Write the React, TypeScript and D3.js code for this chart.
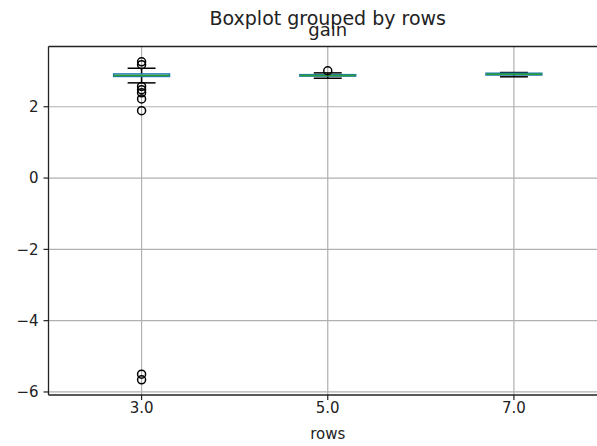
import * as d3 from 'd3';

// per-group summary stats
const categories = ['3.0', '5.0', '7.0'];
const q1 = [2.85, 2.86, 2.89];
const medians = [2.88, 2.88, 2.91];
const q3 = [2.92, 2.9, 2.94];
const whiskerLow = [2.67, 2.8, 2.84];
const whiskerHigh = [3.08, 2.95, 2.96];
const fliers: number[][] = [
  [3.26, 3.18, 2.57, 2.48, 2.39, 2.22, 1.89, -5.5, -5.66],
  [3.01],
  [],
];
const yTicks = [2, 0, -2, -4, -6];

const W = 597;
const H = 446;
const left = 48.5;
const right = 607;
const top = 46.5;
const bottom = 395;
const font = 'DejaVu Sans, sans-serif';

export default function App() {
  const x = d3.scaleLinear().domain([0.5, 3.5]).range([left, right]);
  const y = d3.scaleLinear().domain([-6.085, 3.69]).range([bottom, top]);
  const halfBox = x(1.15) - x(1);
  const halfCap = halfBox / 2;

  return (
    <svg width={W} height={H} style={{ position: 'absolute', left: 0, top: 0, background: '#fff' }}
      fontFamily={font}>
      <rect width={W} height={H} fill="#fff" />
      {/* grid */}
      {categories.map((c, i) => (
        <line key={'gx' + c} x1={x(i + 1)} x2={x(i + 1)} y1={top} y2={bottom} stroke="#b0b0b0" strokeWidth={1.2} />
      ))}
      {yTicks.map(t => (
        <line key={'gy' + t} x1={left} x2={right} y1={y(t)} y2={y(t)} stroke="#b0b0b0" strokeWidth={1.2} />
      ))}

      {/* boxes */}
      {categories.map((c, i) => {
        const cx = x(i + 1);
        return (
          <g key={'b' + c}>
            <line x1={cx} x2={cx} y1={y(q3[i])} y2={y(whiskerHigh[i])} stroke="#000" strokeWidth={1.5} />
            <line x1={cx} x2={cx} y1={y(q1[i])} y2={y(whiskerLow[i])} stroke="#000" strokeWidth={1.5} />
            <line x1={cx - halfCap} x2={cx + halfCap} y1={y(whiskerHigh[i])} y2={y(whiskerHigh[i])} stroke="#000" strokeWidth={1.5} />
            <line x1={cx - halfCap} x2={cx + halfCap} y1={y(whiskerLow[i])} y2={y(whiskerLow[i])} stroke="#000" strokeWidth={1.5} />
            <rect x={cx - halfBox} width={halfBox * 2} y={y(q3[i])} height={y(q1[i]) - y(q3[i])}
              fill="none" stroke="#1f77b4" strokeWidth={1.5} />
            <line x1={cx - halfBox} x2={cx + halfBox} y1={y(medians[i])} y2={y(medians[i])} stroke="#2ca02c" strokeWidth={1.5} />
            {fliers[i].map((v, j) => (
              <circle key={j} cx={cx} cy={y(v)} r={4} fill="none" stroke="#000" strokeWidth={1.5} />
            ))}
          </g>
        );
      })}

      {/* spines */}
      <line x1={left} x2={left} y1={top} y2={bottom} stroke="#222" strokeWidth={1.3} />
      <line x1={left} x2={right} y1={top} y2={top} stroke="#222" strokeWidth={1.3} />
      <line x1={left} x2={right} y1={bottom} y2={bottom} stroke="#222" strokeWidth={1.3} />

      {/* y axis */}
      {yTicks.map(t => (
        <g key={'yt' + t}>
          <line x1={left - 5} x2={left} y1={y(t)} y2={y(t)} stroke="#222" strokeWidth={1.2} />
          <text x={left - 10} y={y(t)} dy="0.36em" textAnchor="end" fontSize={15} fill="#222">
            {t < 0 ? '\u2212' + Math.abs(t) : t}
          </text>
        </g>
      ))}

      {/* x axis */}
      {categories.map((c, i) => (
        <g key={'xt' + c}>
          <line x1={x(i + 1)} x2={x(i + 1)} y1={bottom} y2={bottom + 5} stroke="#222" strokeWidth={1.2} />
          <text x={x(i + 1)} y={bottom + 18} textAnchor="middle" fontSize={15} fill="#222">{c}</text>
        </g>
      ))}
      <text x={x(2)} y={bottom + 44} textAnchor="middle" fontSize={15} fill="#222">rows</text>

      {/* titles */}
      <text x={x(2)} y={25} textAnchor="middle" fontSize={19} fill="#222">Boxplot grouped by rows</text>
      <text x={x(2)} y={36} textAnchor="middle" fontSize={18} fill="#222">gain</text>
    </svg>
  );
}
